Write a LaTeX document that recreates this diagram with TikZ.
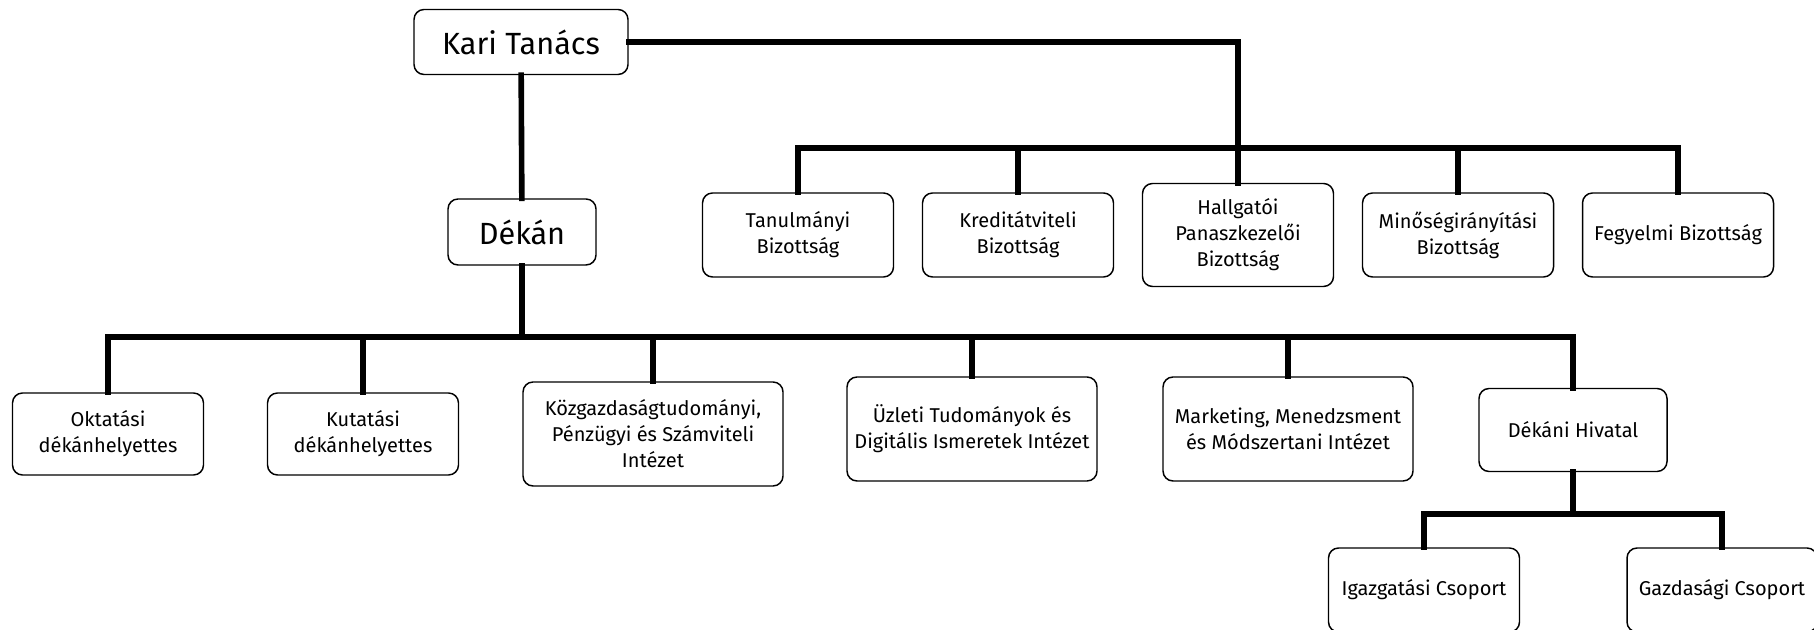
\documentclass[tikz,border=0pt]{standalone}
\usepackage{fontspec}
\setmainfont{Fira Sans}
\usetikzlibrary{positioning}

\begin{document}
\begin{tikzpicture}[x=0.75pt,y=0.75pt,yscale=-1,xscale=1,
  unitbox/.style={draw, line width=1.1pt, rounded corners=7.5pt, fill=white, align=center, inner sep=2pt, font=\fontsize{15}{19.5}\selectfont},
  headbox/.style={unitbox, font=\fontsize{23}{28}\selectfont},
  treeline/.style={line width=4.2pt, line cap=rect}]
%set diagram left start at 0, and has height of 630
\useasboundingbox (0,0) rectangle (1814,630);

%Shape: top boxes
\node [headbox, minimum width=160.5pt, minimum height=48.75pt] (kari) at (521,42) {Kari Tanács};
\node [headbox, minimum width=111pt, minimum height=49.5pt] (dekan) at (522,232) {Dékán};

%Shape: committees
\node [unitbox, minimum width=143.25pt, minimum height=63pt] (tanulm) at (798,235) {Tanulmányi\\Bizottság};
\node [unitbox, minimum width=143.25pt, minimum height=63pt] (kredit) at (1018,235) {Kreditátviteli\\Bizottság};
\node [unitbox, minimum width=143.25pt, minimum height=77.25pt] (hallg) at (1238,235) {Hallgatói\\Panaszkezelői\\Bizottság};
\node [unitbox, minimum width=143.25pt, minimum height=63pt] (minos) at (1458,235) {Minőségirányítási\\Bizottság};
\node [unitbox, minimum width=143.25pt, minimum height=63pt] (fegyelmi) at (1678,235) {Fegyelmi Bizottság};

%Shape: units under the dean
\node [unitbox, minimum width=143.25pt, minimum height=61.5pt] (oktat) at (108,434) {Oktatási\\dékánhelyettes};
\node [unitbox, minimum width=143.25pt, minimum height=61.5pt] (kutat) at (363,434) {Kutatási\\dékánhelyettes};
\node [unitbox, minimum width=195pt, minimum height=78pt] (kozgaz) at (653,434) {Közgazdaságtudományi,\\Pénzügyi és Számviteli\\Intézet};
\node [unitbox, minimum width=187.5pt, minimum height=78pt] (uzleti) at (972,429) {Üzleti Tudományok és\\Digitális Ismeretek Intézet};
\node [unitbox, minimum width=187.5pt, minimum height=78pt] (market) at (1288,429) {Marketing, Menedzsment\\és Módszertani Intézet};
\node [unitbox, minimum width=141pt, minimum height=62.25pt] (hivatal) at (1573,430) {Dékáni Hivatal};

%Shape: groups of the office
\node [unitbox, minimum width=143.25pt, minimum height=63pt] (igazg) at (1424,590) {Igazgatási Csoport};
\node [unitbox, minimum width=142.5pt, minimum height=63pt] (gazd) at (1722,590) {Gazdasági Csoport};

%Straight Lines: bus levels
\coordinate (combus) at (0,148);
\coordinate (deanbus) at (0,337);
\coordinate (officebus) at (0,514);

%Straight Lines: council to dean and committees
\draw [treeline] (kari) -- (dekan);
\draw [treeline] (kari.east) -| (hallg.north);
\draw [treeline] (tanulm.north) -- (tanulm.north |- combus) -- (fegyelmi.north |- combus) -- (fegyelmi.north);
\draw [treeline] (kredit.north) -- (kredit.north |- combus);
\draw [treeline] (minos.north) -- (minos.north |- combus);

%Straight Lines: dean to units
\draw [treeline] (dekan.south) -- (dekan.south |- deanbus);
\draw [treeline] (oktat.north) -- (oktat.north |- deanbus) -- (hivatal.north |- deanbus) -- (hivatal.north);
\draw [treeline] (kutat.north) -- (kutat.north |- deanbus);
\draw [treeline] (kozgaz.north) -- (kozgaz.north |- deanbus);
\draw [treeline] (uzleti.north) -- (uzleti.north |- deanbus);
\draw [treeline] (market.north) -- (market.north |- deanbus);

%Straight Lines: office to groups
\draw [treeline] (hivatal.south) -- (hivatal.south |- officebus);
\draw [treeline] (igazg.north) -- (igazg.north |- officebus) -- (gazd.north |- officebus) -- (gazd.north);

\end{tikzpicture}
\end{document}
